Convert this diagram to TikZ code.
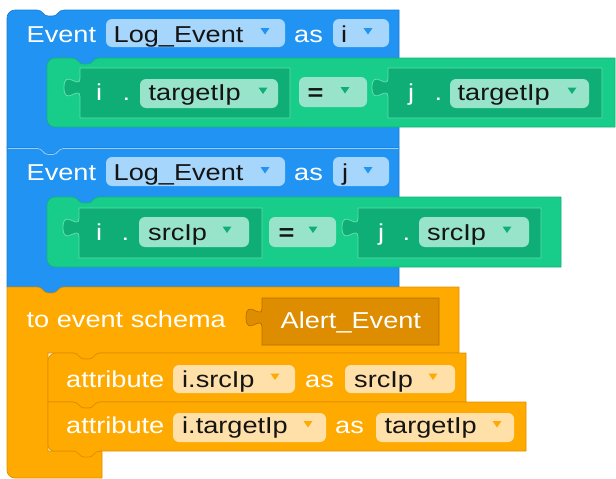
\documentclass[tikz,border=0pt]{standalone}
\usepackage{fontspec}
\newfontfamily\blkfont[FakeStretch=1.18]{Liberation Sans}
\definecolor{blueblk}{RGB}{33,148,243}
\definecolor{blueedge}{RGB}{24,122,214}
\definecolor{bluefield}{RGB}{166,214,251}
\definecolor{greenblk}{RGB}{24,204,138}
\definecolor{greenedge}{RGB}{16,180,120}
\definecolor{greenval}{RGB}{14,174,118}
\definecolor{greenhi}{RGB}{96,222,172}
\definecolor{greenfield}{RGB}{152,228,202}
\definecolor{orangeblk}{RGB}{255,170,0}
\definecolor{orangeedge}{RGB}{222,142,0}
\definecolor{orangeval}{RGB}{222,140,0}
\definecolor{orangefield}{RGB}{255,224,168}
\definecolor{ink}{RGB}{20,20,20}

% statement notch on a top edge, starting at x=#1 (drawn left to right)
\def\topnotch#1#2{-- (#1,#2) .. controls (#1+6,#2) and (#1+6,#2+6) .. (#1+11,#2+6) -- (#1+16,#2+6) .. controls (#1+21,#2+6) and (#1+21,#2) .. (#1+27,#2)}
% matching tab on a bottom edge (drawn right to left)
\def\bottab#1#2{-- (#1+27,#2) .. controls (#1+21,#2) and (#1+21,#2+6) .. (#1+16,#2+6) -- (#1+11,#2+6) .. controls (#1+6,#2+6) and (#1+6,#2) .. (#1,#2)}
% puzzle tab on the left edge of a value block (drawn bottom to top)
\def\lefttab#1#2{-- (#1,#2+29) .. controls (#1,#2+16.3) and (#1-16,#2+39.2) .. (#1-16,#2+19.5) .. controls (#1-16,#2-0.2) and (#1,#2+22.7) .. (#1,#2+10)}
% dropdown arrow
\newcommand\droparrow[3]{\fill[#3] (#1-4.5,#2-3) -- (#1+4.5,#2-3) -- (#1,#2+3.5) -- cycle;}

\tikzset{
  lbl/.style={text=white, anchor=base west, inner sep=0pt, font=\blkfont\fontsize{23}{27}\selectfont},
  val/.style={text=ink, anchor=base west, inner sep=0pt, font=\blkfont\fontsize{23}{27}\selectfont},
  blueblock/.style={fill=blueblk, draw=blueedge, line width=0.6pt},
  greenblock/.style={fill=greenblk, draw=greenedge, line width=0.6pt},
  greenvalue/.style={fill=greenval, draw=greenhi, line width=0.8pt},
  orangeblock/.style={fill=orangeblk, draw=orangeedge, line width=0.7pt},
  orangevalue/.style={fill=orangeval, draw=orangeedge!80!black, line width=0.7pt},
  bfield/.style={fill=bluefield, rounded corners=6pt},
  gfield/.style={fill=greenfield, rounded corners=6pt},
  ofield/.style={fill=orangefield, rounded corners=6pt},
}

\begin{document}
\begin{tikzpicture}[x=1pt,y=-1pt]
\useasboundingbox[fill=white] (0,0) rectangle (616,479);

% ---------- first event block ----------
\path[blueblock] (7,18) arc[start angle=180,end angle=270,radius=8] \topnotch{37}{10}
  -- (399,10) -- (399,148) \bottab{37}{148} -- (7,148) -- cycle;
\path[greenblock] (47,66) arc[start angle=180,end angle=270,radius=8] \topnotch{72}{58}
  -- (615,58) -- (615,127) -- (55,127) arc[start angle=90,end angle=180,radius=8] -- cycle;
\fill[bfield] (106,19) rectangle (285,47);
\fill[bfield] (333,19) rectangle (389,47);
\droparrow{265}{31}{blueblk}
\droparrow{368}{31}{blueblk}
\node[lbl] (ev1) at (26.5,42) {Event};
\node[val] (le1) at (113.5,42) {Log\_Event};
\node[lbl] (as1) at (294,42) {as};
\node[val] (iv) at (341,42) {i};

% i . targetIp  =  j . targetIp
\path[greenvalue] (80,68) -- (290,68) -- (290,118) -- (80,118) \lefttab{80}{68} -- cycle;
\path[greenvalue] (388,68) -- (602,68) -- (602,118) -- (388,118) \lefttab{388}{68} -- cycle;
\fill[gfield] (140,79) rectangle (278,108);
\fill[gfield] (299,77) rectangle (367,107);
\fill[gfield] (450,79) rectangle (589,108);
\droparrow{263}{90.5}{greenval}
\droparrow{345}{90}{greenval}
\droparrow{572}{90.5}{greenval}
\node[lbl] (ia) at (96,100) {i};
\node[lbl] (da) at (122.5,100) {.};
\node[val] (ta) at (148.5,100) {targetIp};
\node[val] (eqa) at (307.5,100) {\bfseries =};
\node[lbl] (ja) at (408,100) {j};
\node[lbl] (db) at (434.5,100) {.};
\node[val] (tb) at (457.5,100) {targetIp};

% ---------- second event block ----------
\path[blueblock] (7,148) \topnotch{37}{148} -- (399,148) -- (399,287) \bottab{37}{287} -- (7,287) -- cycle;
\draw[white!55!blueblk, line width=0.8pt] (7.5,148.4) \topnotch{37}{148.4} -- (398.5,148.4);
\path[greenblock] (47,205) arc[start angle=180,end angle=270,radius=8] \topnotch{72}{197}
  -- (561,197) -- (561,267) -- (55,267) arc[start angle=90,end angle=180,radius=8] -- cycle;
\fill[bfield] (106,157) rectangle (285,186);
\fill[bfield] (333,157) rectangle (389,186);
\droparrow{265}{170}{blueblk}
\droparrow{368}{170}{blueblk}
\node[lbl] (ev2) at (26.5,180) {Event};
\node[val] (le2) at (113.5,180) {Log\_Event};
\node[lbl] (as2) at (294,180) {as};
\node[val] (jv) at (342,180) {j};

% i . srcIp  =  j . srcIp
\path[greenvalue] (79,208) -- (262,208) -- (262,258) -- (79,258) \lefttab{79}{208} -- cycle;
\path[greenvalue] (358,208) -- (541,208) -- (541,258) -- (358,258) \lefttab{358}{208} -- cycle;
\fill[gfield] (139,217) rectangle (249,247);
\fill[gfield] (269,217) rectangle (336,247);
\fill[gfield] (419,217) rectangle (529,247);
\droparrow{227}{229.5}{greenval}
\droparrow{313}{229.5}{greenval}
\droparrow{507}{229.5}{greenval}
\node[lbl] (ib) at (96,240) {i};
\node[lbl] (dc) at (121.5,240) {.};
\node[val] (sa) at (148,240) {srcIp};
\node[val] (eqb) at (278.5,240) {\bfseries =};
\node[lbl] (jb) at (378,240) {j};
\node[lbl] (dd) at (402.5,240) {.};
\node[val] (sb) at (427,240) {srcIp};

% ---------- output schema block ----------
\path[orangeblock] (7,287) \topnotch{37}{287} -- (459,287) -- (459,353) \bottab{73}{353}
  -- (48,353) -- (48,451) -- (102,451) -- (102,478) -- (15,478)
  arc[start angle=90,end angle=180,radius=8] -- cycle;
\path[orangevalue] (262,298) -- (439,298) -- (439,345) -- (262,345) \lefttab{262}{298} -- cycle;
\node[lbl] (ts) at (26.5,327) {to event schema};
\node[lbl] (ae) at (280.5,328) {Alert\_Event};

% attribute rows
\path[orangeblock] (48,361) arc[start angle=180,end angle=270,radius=8] \topnotch{73}{353}
  -- (466,353) -- (466,402) \bottab{73}{402} -- (48,402) -- cycle;
\path[orangeblock] (48,402) \topnotch{73}{402} -- (526,402) -- (526,451) \bottab{73}{451}
  -- (54,451) arc[start angle=90,end angle=180,radius=6] -- cycle;
\fill[ofield] (173,365) rectangle (295,393);
\fill[ofield] (345,365) rectangle (455,393);
\fill[ofield] (173,413) rectangle (326,442);
\fill[ofield] (376,413) rectangle (514,442);
\droparrow{275}{376.5}{orangeblk}
\droparrow{433}{376.5}{orangeblk}
\droparrow{308}{424}{orangeblk}
\droparrow{497}{424}{orangeblk}
\node[lbl] (at1) at (66,387) {attribute};
\node[val] (f1) at (182,387) {i.srcIp};
\node[lbl] (as3) at (305,387) {as};
\node[val] (n1) at (354,387) {srcIp};
\node[lbl] (at2) at (66,433) {attribute};
\node[val] (f2) at (182,433) {i.targetIp};
\node[lbl] (as4) at (335,433) {as};
\node[val] (n2) at (384.5,433) {targetIp};
\end{tikzpicture}
\end{document}
